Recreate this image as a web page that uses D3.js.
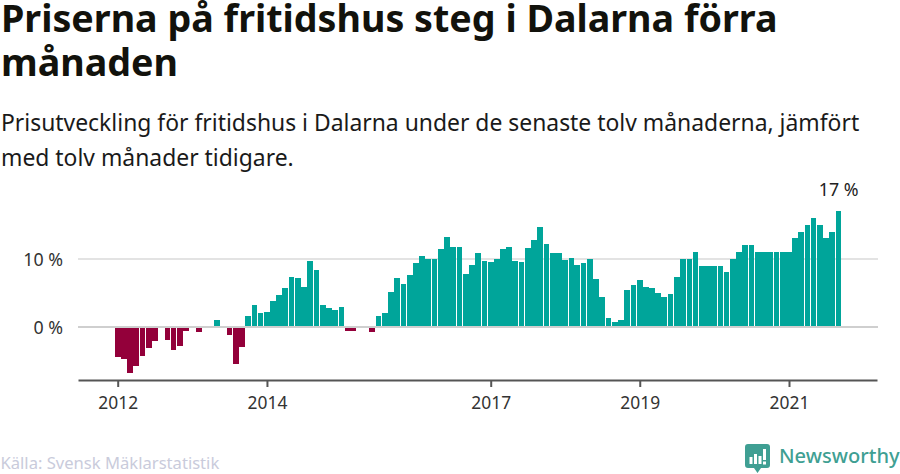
<!DOCTYPE html>
<html><head><meta charset="utf-8">
<script src="https://cdnjs.cloudflare.com/ajax/libs/d3/7.8.5/d3.min.js"></script>
<style>
html,body{margin:0;padding:0;background:#fff;overflow:hidden}
svg{display:block;font-family:"Noto Sans",sans-serif}
</style></head><body>
<svg id="c" width="900" height="474"></svg>
<script>
const titleLines = ["Priserna på fritidshus steg i Dalarna förra", "månaden"];
const subtitleLines = ["Prisutveckling för fritidshus i Dalarna under de senaste tolv månaderna, jämfört", "med tolv månader tidigare."];
const source = "Källa: Svensk Mäklarstatistik";
const brand = "Newsworthy";
const firstMonth = new Date(Date.UTC(2012, 0, 1));
const values = [
 -4.4,-4.7,-6.8,-5.7,-4.3,-3.1,-2.1,-0.2,-1.9,-3.4,-2.8,-0.6,
 0,-0.7,0,0,1.0,0,-1.2,-5.4,-2.9,1.6,3.2,2.1,
 2.2,3.8,4.7,5.7,7.4,7.2,5.9,9.7,8.4,3.2,2.8,2.5,
 2.9,-0.6,-0.6,0,-0.2,-0.7,1.6,2.1,5.1,7.2,6.3,7.6,
 9.4,10.4,10.0,10.0,11.5,13.2,11.8,11.8,7.8,9.1,10.9,9.7,
 9.6,10.0,11.5,11.8,9.7,9.6,11.6,12.8,14.7,12.2,10.9,10.9,
 9.9,10.1,9.1,9.4,10.0,7.1,4.4,1.3,0.7,1.0,5.4,6.2,
 6.9,5.9,5.7,5.0,4.4,4.9,7.4,10,10,11,9,9,
 9,9,8.1,10,11,12,12,11,11,11,11,11,
 11,13.1,14,15,16,15,13.1,14,17
];
const xTickYears = [2012, 2014, 2017, 2019, 2021];
const yTicks = [0, 10];
const lastLabel = "17 %";
const posColor = "#00a59a", negColor = "#93003a";

const months = values.map((v, i) => new Date(Date.UTC(2012, i, 1)));
const data = months.map((d, i) => ({date: d, value: values[i]}));
const svg = d3.select("#c");

svg.append("g").selectAll("text").data(titleLines).join("text")
  .attr("x", 1).attr("y", (d, i) => 32 + i * 44)
  .attr("font-size", 37.65).attr("font-weight", 700).attr("fill", "#12120c").text(d => d);
svg.append("g").selectAll("text").data(subtitleLines).join("text")
  .attr("x", 1).attr("y", (d, i) => 131 + i * 35)
  .attr("font-size", 22.9).attr("fill", "#1a1a1a").text(d => d);

const x0 = d3.scaleUtc().domain([firstMonth, new Date(Date.UTC(2021, 0, 1))]).range([117.7, 789]);
const x = d3.scaleUtc().domain([x0.invert(78), x0.invert(877)]).range([78, 877]);
const y = d3.scaleLinear().domain([-7.8, 17]).range([380, 211.4]);
const barW = 5.7;

const grid = svg.append("g");
grid.selectAll("line").data(yTicks.filter(d => d !== 0)).join("line")
  .attr("x1", 78).attr("x2", 878).attr("y1", y).attr("y2", y)
  .attr("stroke", "#e3e3e3").attr("stroke-width", 2);

svg.append("g").attr("shape-rendering", "crispEdges").selectAll("rect")
  .data(data.filter(d => d.value !== 0)).join("rect")
  .attr("x", d => x(d.date) - barW / 2).attr("width", barW)
  .attr("y", d => y(Math.max(0, d.value)))
  .attr("height", d => Math.abs(y(d.value) - y(0)))
  .attr("fill", d => d.value > 0 ? posColor : negColor);

svg.append("line").attr("x1", 78).attr("x2", 878).attr("y1", y(0)).attr("y2", y(0))
  .attr("stroke", "#cfcfcf").attr("stroke-width", 2);

svg.append("g").selectAll("text").data(yTicks).join("text")
  .attr("x", 63).attr("y", d => y(d) + 7).attr("text-anchor", "end")
  .attr("font-size", 17.8).attr("fill", "#333").text(d => d + " %");

const axis = d3.axisBottom(x)
  .tickValues(xTickYears.map(yr => new Date(Date.UTC(yr, 0, 1))))
  .tickFormat(d3.utcFormat("%Y")).tickSize(7).tickSizeOuter(0).tickPadding(0);
const ag = svg.append("g").attr("transform", "translate(0,380)").call(axis);
ag.select(".domain").attr("stroke", "#555").attr("stroke-width", 2);
ag.selectAll(".tick line").attr("stroke", "#555").attr("stroke-width", 2);
ag.selectAll(".tick text").attr("font-size", 17.4).attr("font-family", "Noto Sans").attr("fill", "#333")
  .attr("dy", null).attr("y", 29);

const last = data[data.length - 1];
svg.append("text").attr("x", x(last.date)).attr("y", 196).attr("text-anchor", "middle")
  .attr("font-size", 17.8).attr("fill", "#222").text(lastLabel);

svg.append("text").attr("x", 0.5).attr("y", 469).attr("font-size", 16.6).attr("fill", "#c9cbdb").text(source);

// logo
const logo = svg.append("g").attr("transform", "translate(745,444)");
logo.append("path").attr("fill", "#3f9f93")
  .attr("d", "M3,0H22a3,3 0 0 1 3,3V21a3,3 0 0 1 -3,3H16L12.5,29L9,24H3a3,3 0 0 1 -3,-3V3a3,3 0 0 1 3,-3Z");
const logoBars = [[4.5,13,3,7],[9,10,3,10],[13.5,12,3,8],[18,5,3,11]];
logo.selectAll("rect").data(logoBars).join("rect")
  .attr("x", d => d[0]).attr("y", d => d[1]).attr("width", d => d[2]).attr("height", d => d[3])
  .attr("fill", "#fff");
logo.append("rect").attr("x", 18).attr("y", 17.5).attr("width", 3).attr("height", 3).attr("fill", "#fff");
svg.append("text").attr("x", 779).attr("y", 463).attr("font-size", 20.1).attr("font-weight", 500)
  .attr("fill", "#3f9f93").text(brand);
</script>
</body></html>
